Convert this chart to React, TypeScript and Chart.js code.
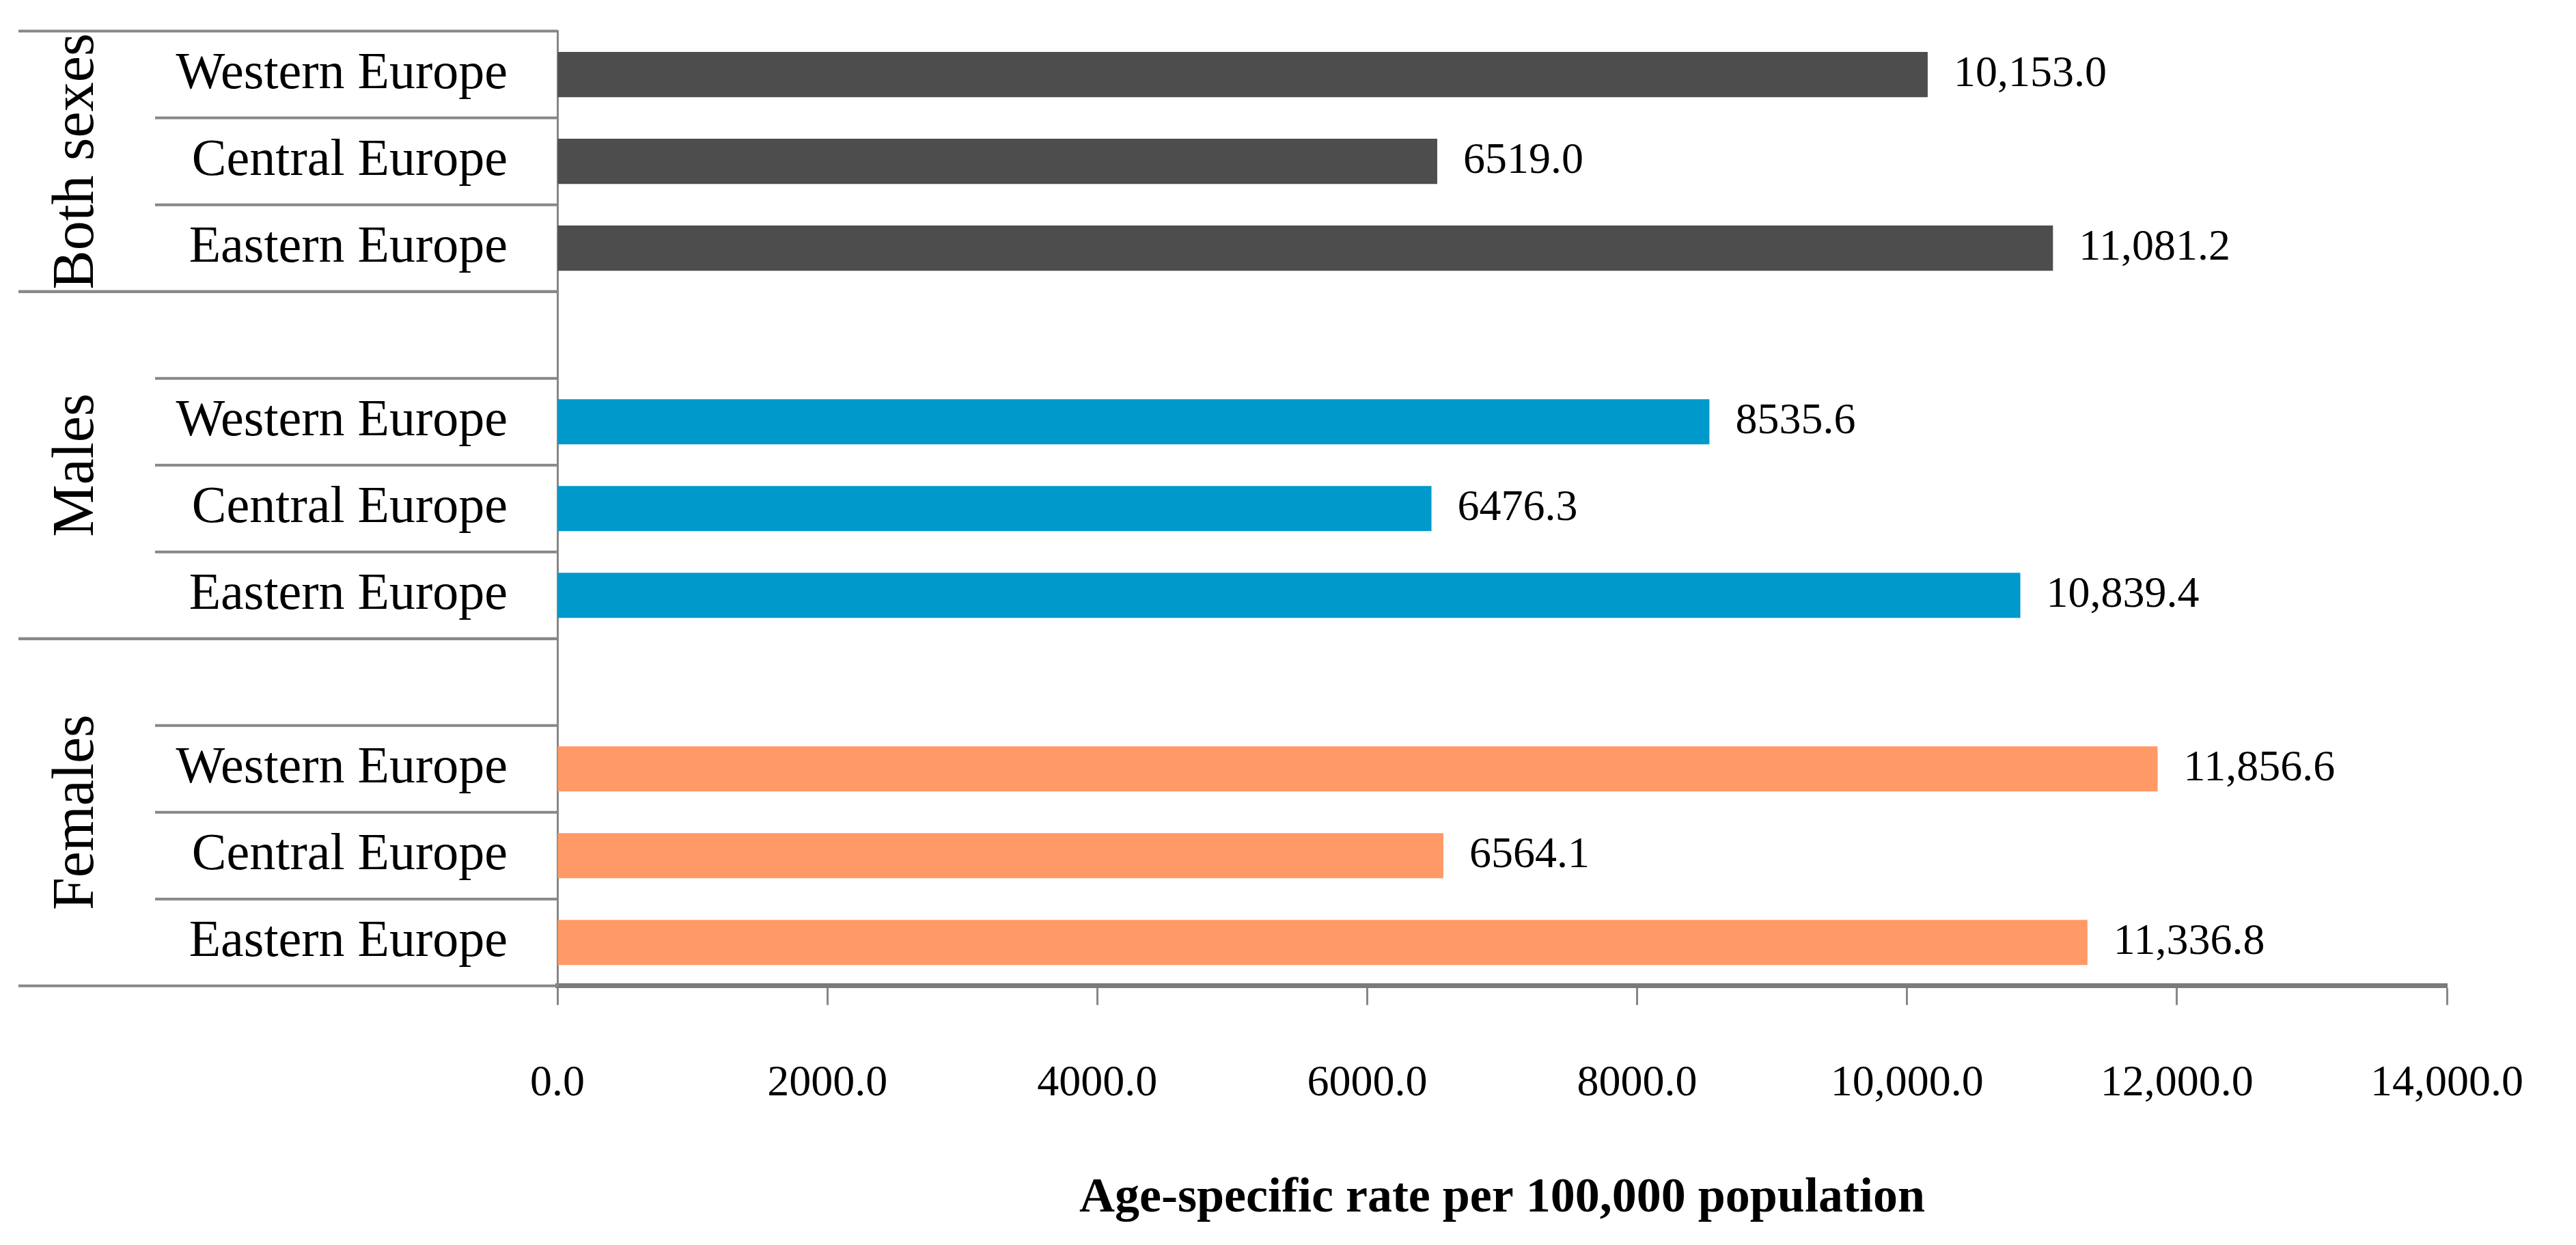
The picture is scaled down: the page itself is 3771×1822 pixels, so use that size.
import React, { useEffect, useRef } from "react";
import { Chart, registerables } from "chart.js";

Chart.register(...registerables);

// ---- data ----
const categories = [
  "Western Europe", "Central Europe", "Eastern Europe", "",
  "Western Europe", "Central Europe", "Eastern Europe", "",
  "Western Europe", "Central Europe", "Eastern Europe",
];
const groupNames = ["Both sexes", "Males", "Females"];
const groupStart = [0, 3, 7];
const groupEnd = [2, 6, 10];
const bothSexes = [10153.0, 6519.0, 11081.2];
const males = [8535.6, 6476.3, 10839.4];
const females = [11856.6, 6564.1, 11336.8];
const xTicks = [0, 2000, 4000, 6000, 8000, 10000, 12000, 14000];
const axisTitle = "Age-specific rate per 100,000 population";

// ---- styles ----
const SERIF = "'Liberation Serif', 'Times New Roman', serif";
const LINE = "#878787";
const COLORS = ["#4D4D4D", "#0099CC", "#FF9966"];

const fmt = (v: number) =>
  v >= 10000
    ? Math.floor(v / 1000) + "," + (v % 1000).toFixed(1).padStart(5, "0")
    : v.toFixed(1);

const place = (vals: number[], start: number) => {
  const arr: (number | null)[] = categories.map(() => null);
  vals.forEach((v, i) => (arr[start + i] = v));
  return arr;
};

const overlay = {
  id: "overlay",
  afterDraw(chart: any) {
    const ctx = chart.ctx as CanvasRenderingContext2D;
    const y = chart.scales.y;
    const axisX = chart.chartArea.left;
    const half = (y.getPixelForValue(1) - y.getPixelForValue(0)) / 2;
    const fullStart = 27;
    const innerStart = 227;
    ctx.save();
    ctx.strokeStyle = LINE;
    ctx.lineWidth = 4;
    const hline = (x0: number, yy: number) => {
      ctx.beginPath();
      ctx.moveTo(x0, yy);
      ctx.lineTo(axisX, yy);
      ctx.stroke();
    };
    groupNames.forEach((name, gi) => {
      const a = groupStart[gi];
      const b = groupEnd[gi];
      const top = y.getPixelForValue(a) - half;
      const bottom = y.getPixelForValue(b) + half;
      hline(fullStart, top);
      hline(fullStart, bottom);
      for (let i = a; i < b; i++) hline(innerStart, y.getPixelForValue(i) + half);
      ctx.save();
      ctx.translate(113, (top + bottom) / 2);
      ctx.rotate(-Math.PI / 2);
      ctx.fillStyle = "#000";
      ctx.font = `86px ${SERIF}`;
      ctx.textAlign = "center";
      ctx.textBaseline = "middle";
      ctx.fillText(name, 0, 0);
      ctx.restore();
    });
    ctx.restore();
  },
  afterDatasetsDraw(chart: any) {
    const ctx = chart.ctx as CanvasRenderingContext2D;
    ctx.save();
    ctx.fillStyle = "#000";
    ctx.font = `64px ${SERIF}`;
    ctx.textAlign = "left";
    ctx.textBaseline = "middle";
    chart.data.datasets.forEach((ds: any, di: number) => {
      const meta = chart.getDatasetMeta(di);
      meta.data.forEach((el: any, i: number) => {
        const v = ds.data[i];
        if (v === null || v === undefined) return;
        ctx.fillText(fmt(v), el.x + 38, el.y);
      });
    });
    ctx.restore();
  },
};

export default function App() {
  const ref = useRef<HTMLCanvasElement | null>(null);
  useEffect(() => {
    if (!ref.current) return;
    const chart = new Chart(ref.current, {
      type: "bar",
      data: {
        labels: categories,
        datasets: [
          { label: "Both sexes", data: place(bothSexes, groupStart[0]), backgroundColor: COLORS[0] },
          { label: "Males", data: place(males, groupStart[1] + 1), backgroundColor: COLORS[1] },
          { label: "Females", data: place(females, groupStart[2] + 1), backgroundColor: COLORS[2] },
        ],
      },
      options: {
        indexAxis: "y",
        animation: false,
        responsive: false,
        devicePixelRatio: 1,
        layout: { padding: { top: 30, right: 130, bottom: 24, left: 0 } },
        datasets: { bar: { categoryPercentage: 1, barPercentage: 0.52 } },
        plugins: { legend: { display: false }, tooltip: { enabled: false } },
        scales: {
          x: {
            stacked: true,
            min: 0,
            max: 14000,
            afterBuildTicks: (s: any) => {
              s.ticks = xTicks.map((v) => ({ value: v }));
            },
            grid: {
              drawOnChartArea: false,
              drawTicks: true,
              tickLength: 28,
              tickColor: LINE,
              tickWidth: 3,
            },
            border: { display: true, color: "#7a7a7a", width: 7 },
            ticks: {
              color: "#000",
              font: { family: SERIF, size: 64 },
              padding: 77,
              maxRotation: 0,
              autoSkip: false,
              callback: (v: any) => fmt(Number(v)),
            },
            title: {
              display: true,
              text: axisTitle,
              color: "#000",
              font: { family: SERIF, size: 72, weight: "bold" },
              padding: { top: 10, bottom: 0 },
            },
          },
          y: {
            stacked: true,
            offset: true,
            grid: {
              display: true,
              drawOnChartArea: false,
              drawTicks: true,
              tickLength: 73,
              tickColor: "rgba(0,0,0,0)",
            },
            border: { display: true, color: LINE, width: 3 },
            ticks: {
              color: "#000",
              font: { family: SERIF, size: 76 },
              padding: 0,
              autoSkip: false,
            },
            afterFit: (s: any) => {
              s.width = 816;
            },
          },
        },
      },
      plugins: [overlay],
    } as any);
    return () => chart.destroy();
  }, []);
  return (
    <div style={{ position: "fixed", left: 0, top: 0, width: 3771, height: 1822, background: "#fff" }}>
      <canvas ref={ref} width={3771} height={1822} style={{ display: "block" }} />
    </div>
  );
}
